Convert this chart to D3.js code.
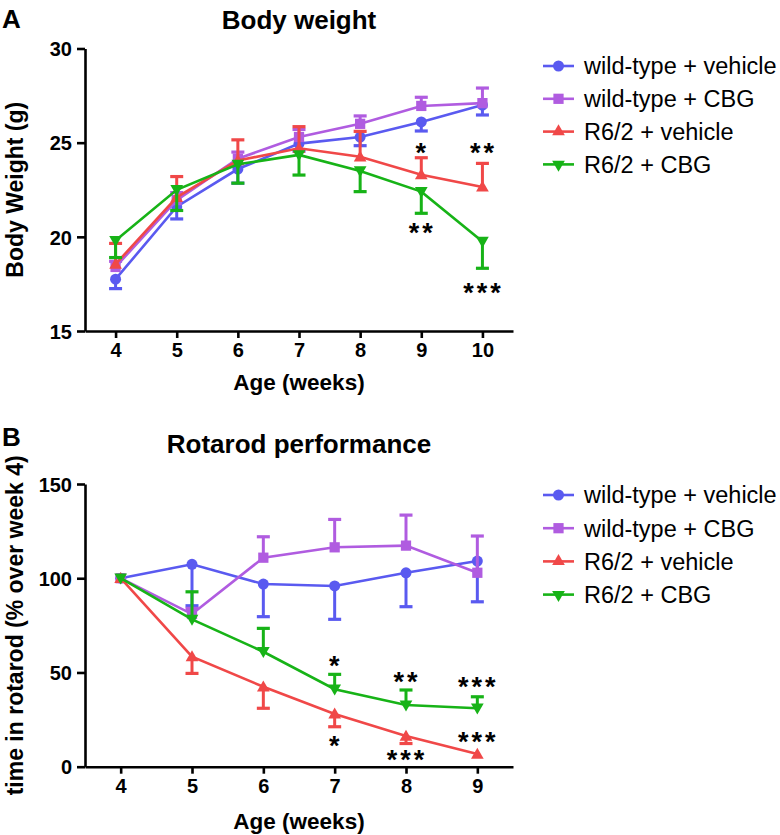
<!DOCTYPE html>
<html><head><meta charset="utf-8">
<script src="https://cdn.jsdelivr.net/npm/d3@7"></script>
<style>
body{margin:0;background:#fff}
svg{display:block}
text{font-family:"Liberation Sans", Arial, Helvetica, sans-serif}
</style>
</head><body>
<svg id="chart" width="780" height="835"></svg>
<script>
// ---------- data ----------
const seriesNames = ["wild-type + vehicle", "wild-type + CBG", "R6/2 + vehicle", "R6/2 + CBG"];

// Panel A: body weight (g)
const weeksA = [4, 5, 6, 7, 8, 9, 10];
const wtVehicleA = [17.75, 21.6, 23.6, 24.95, 25.3, 26.1, 27.0];
const wtVehicleAErr = [0.5, 0.65, 0.75, 0.4, 0.46, 0.48, 0.53];
const wtCbgA = [18.4, 21.95, 24.15, 25.3, 26.0, 26.95, 27.1];
const wtCbgAErr = [0.3, 0.4, 0.35, 0.4, 0.42, 0.46, 0.8];
const r62VehicleA = [18.55, 22.1, 24.05, 24.7, 24.25, 23.3, 22.65];
const r62VehicleAErr = [1.1, 1.1, 1.1, 1.15, 1.35, 0.9, 1.25];
const r62CbgA = [19.8, 22.5, 23.85, 24.35, 23.5, 22.4, 19.75];
const r62CbgAErr = [0.9, 1.1, 1.0, 1.07, 1.1, 1.15, 1.42];
const ticksAy = [15, 20, 25, 30];
const sigWeeksA = [9, 10, 9, 10];
const sigValuesA = [24.79, 24.79, 20.5, 17.34];
const sigLabelsA = ["*", "**", "**", "***"];

// Panel B: rotarod (% over week 4)
const weeksB = [4, 5, 6, 7, 8, 9];
const wtVehicleB = [100, 107.4, 96.9, 95.9, 102.9, 109.1];
const wtVehicleBErr = [0, 22, 17.3, 17.7, 18, 21.6];
const wtCbgB = [100, 81.0, 110.9, 116.4, 117.3, 102.9];
const wtCbgBErr = [0, 3, 11.1, 14.8, 16.2, 19.5];
const r62VehicleB = [100, 58.4, 42.4, 28.0, 16.3, 6.7];
const r62VehicleBErr = [0, 8.9, 11.4, 6.8, 4, 0];
const r62CbgB = [100, 78.2, 61.0, 41.1, 32.7, 31.0];
const r62CbgBErr = [0, 14.6, 12.4, 7.9, 8.0, 6.1];
const ticksBy = [0, 50, 100, 150];
const sigWeeksB = [7, 7, 8, 8, 9, 9];
const sigValuesB = [56.6, 14.2, 48.1, 6.6, 45.5, 16.3];
const sigLabelsB = ["*", "*", "**", "***", "***", "***"];

// ---------- styles ----------
const colors = ["#5a5af0", "#b05ce0", "#f04848", "#17b317"];
const symbols = [d3.symbolCircle, d3.symbolSquare, d3.symbolTriangle, d3.symbolTriangle];
const symbolSizes = [95, 105, 70, 70];
const symbolRot = [0, 0, 0, 180];

const svg = d3.select("#chart");

function drawPanel(o) {
  const g = svg.append("g");
  const x = d3.scaleLinear().domain(o.xDomain).range([85, 513]);
  const y = d3.scaleLinear().domain(o.yDomain).range(o.yRange);

  // axes
  const xAxis = g.append("g").attr("transform", `translate(0,${o.yRange[0]})`)
    .call(d3.axisBottom(x).tickValues(o.weeks).tickFormat(d3.format("d")).tickSize(7).tickSizeOuter(0).tickPadding(5));
  const yAxis = g.append("g").attr("transform", `translate(85,0)`)
    .call(d3.axisLeft(y).tickValues(o.yTicks).tickSize(8).tickSizeOuter(0).tickPadding(5));
  [xAxis, yAxis].forEach(a => {
    a.select(".domain").attr("stroke", "#000").attr("stroke-width", 2.6);
    a.selectAll(".tick line").attr("stroke", "#000").attr("stroke-width", 2.6);
    a.selectAll(".tick text").attr("fill", "#000").style("font-size", "20px").style("font-weight", "bold");
  });
  xAxis.selectAll(".tick text").attr("dy", "0.72em");
  yAxis.selectAll(".tick text").attr("dy", "0.36em");

  // series
  o.series.forEach((s, i) => {
    const sg = g.append("g");
    const col = colors[i];
    // error bars
    o.weeks.forEach((wk, j) => {
      const e = s.err[j];
      if (!e) return;
      const v0 = s.values[j], v1 = v0 + o.errDir[i] * e;
      sg.append("line").attr("x1", x(wk)).attr("x2", x(wk)).attr("y1", y(v0)).attr("y2", y(v1))
        .attr("stroke", col).attr("stroke-width", 3);
      sg.append("line").attr("x1", x(wk) - 6.5).attr("x2", x(wk) + 6.5).attr("y1", y(v1)).attr("y2", y(v1))
        .attr("stroke", col).attr("stroke-width", 3.2);
    });
    // line
    sg.append("path").datum(o.weeks.map((wk, j) => [wk, s.values[j]]))
      .attr("fill", "none").attr("stroke", col).attr("stroke-width", 2.6)
      .attr("d", d3.line().x(d => x(d[0])).y(d => y(d[1])));
    // markers
    sg.selectAll("path.m").data(o.weeks.map((wk, j) => [wk, s.values[j]])).enter()
      .append("path").attr("class", "m")
      .attr("d", d3.symbol().type(symbols[i]).size(symbolSizes[i]))
      .attr("transform", d => `translate(${x(d[0])},${y(d[1]) + (i === 3 ? -1 : (i === 2 ? 1 : 0))}) rotate(${symbolRot[i]})`)
      .attr("fill", col);
  });

  // significance stars
  o.sigWeeks.forEach((wk, k) => {
    g.append("text").attr("x", x(wk) + 1).attr("y", y(o.sigValues[k]) + 15)
      .attr("text-anchor", "middle").style("font-size", "27px").style("font-weight", "bold")
      .style("letter-spacing", "3px")
      .attr("fill", "#000").text(o.sigLabels[k]);
  });

  // titles and labels
  g.append("text").attr("x", 2).attr("y", o.letterY).style("font-size", "26px").style("font-weight", "bold").text(o.letter);
  g.append("text").attr("x", 299).attr("y", o.titleY).attr("text-anchor", "middle")
    .style("font-size", "26px").style("font-weight", "bold").text(o.title);
  g.append("text").attr("x", 299).attr("y", o.xLabelY).attr("text-anchor", "middle")
    .style("font-size", "22.5px").style("font-weight", "bold").text("Age (weeks)");
  const yMid = (o.yRange[0] + o.yRange[1]) / 2;
  g.append("text").attr("transform", `translate(23,${yMid}) rotate(-90)`).attr("text-anchor", "middle")
    .style("font-size", "23px").style("font-weight", "bold").text(o.yLabel);

  // legend
  seriesNames.forEach((nm, i) => {
    const ly = o.legendY + i * o.legendStep;
    g.append("line").attr("x1", 543).attr("x2", 574).attr("y1", ly).attr("y2", ly)
      .attr("stroke", colors[i]).attr("stroke-width", 2.6);
    g.append("path").attr("d", d3.symbol().type(symbols[i]).size(symbolSizes[i]))
      .attr("transform", `translate(558.5,${ly}) rotate(${symbolRot[i]})`).attr("fill", colors[i]);
    g.append("text").attr("x", 584).attr("y", ly + 8.3).style("font-size", "23.5px").attr("fill", "#000").text(nm);
  });
}

drawPanel({
  weeks: weeksA, xDomain: [3.5, 10.5], yDomain: [15, 30], yRange: [331, 48.5], yTicks: ticksAy,
  series: [
    {values: wtVehicleA, err: wtVehicleAErr},
    {values: wtCbgA, err: wtCbgAErr},
    {values: r62VehicleA, err: r62VehicleAErr},
    {values: r62CbgA, err: r62CbgAErr}
  ],
  errDir: [-1, 1, 1, -1],
  sigWeeks: sigWeeksA, sigValues: sigValuesA, sigLabels: sigLabelsA,
  letter: "A", letterY: 28, title: "Body weight", titleY: 29, xLabelY: 390,
  yLabel: "Body Weight (g)", legendY: 66, legendStep: 32.8
});

drawPanel({
  weeks: weeksB, xDomain: [3.5, 9.5], yDomain: [0, 150], yRange: [766.7, 484], yTicks: ticksBy,
  series: [
    {values: wtVehicleB, err: wtVehicleBErr},
    {values: wtCbgB, err: wtCbgBErr},
    {values: r62VehicleB, err: r62VehicleBErr},
    {values: r62CbgB, err: r62CbgBErr}
  ],
  errDir: [-1, 1, -1, 1],
  sigWeeks: sigWeeksB, sigValues: sigValuesB, sigLabels: sigLabelsB,
  letter: "B", letterY: 446, title: "Rotarod performance", titleY: 453, xLabelY: 829,
  yLabel: "time in rotarod (% over week 4)", legendY: 495, legendStep: 33.2
});
</script>
</body></html>
